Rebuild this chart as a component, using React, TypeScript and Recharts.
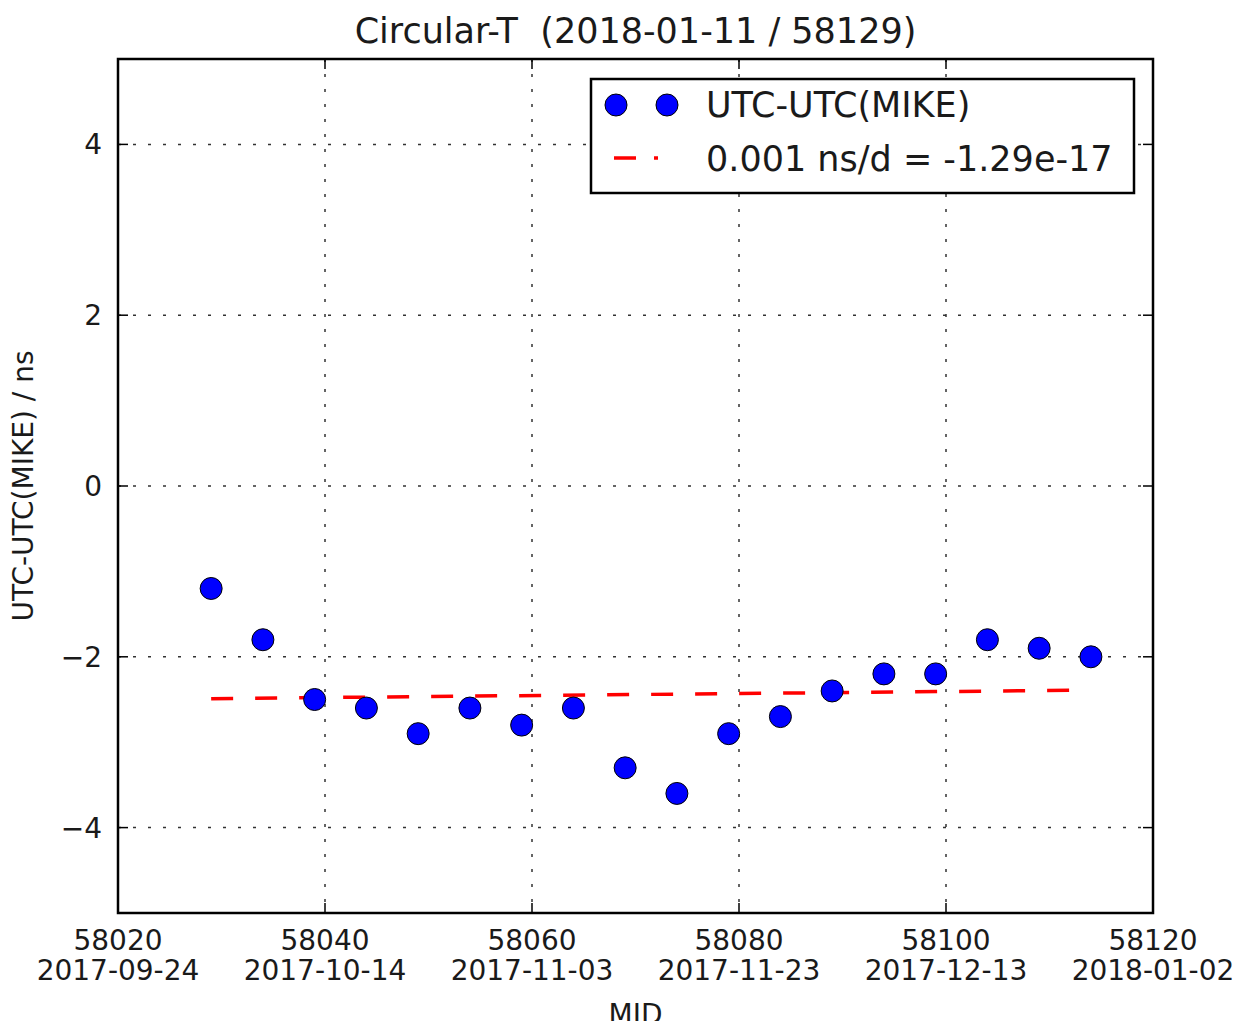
import { ComposedChart, Scatter, Line, XAxis, YAxis, CartesianGrid } from "recharts";

// UTC - UTC(MIKE) every 5 days
const mjdDays = [
  58029, 58034, 58039, 58044, 58049, 58054, 58059, 58064, 58069,
  58074, 58079, 58084, 58089, 58094, 58099, 58104, 58109, 58114,
];
const utcMike = [
  -1.2, -1.8, -2.5, -2.6, -2.9, -2.6, -2.8, -2.6, -3.3,
  -3.6, -2.9, -2.7, -2.4, -2.2, -2.2, -1.8, -1.9, -2.0,
];

// linear fit end points
const trendDays = [58029, 58114];
const trendValues = [-2.49, -2.39];

const xTicks = [58020, 58040, 58060, 58080, 58100, 58120];
const xTickDates = [
  "2017-09-24",
  "2017-10-14",
  "2017-11-03",
  "2017-11-23",
  "2017-12-13",
  "2018-01-02",
];
const yTicks = [-4, -2, 0, 2, 4];

const points = mjdDays.map((mjd, i) => ({ mjd, value: utcMike[i] }));
const trend = trendDays.map((mjd, i) => ({ mjd, value: trendValues[i] }));

const W = 1240;
const H = 1021;
const LEFT = 118;
const RIGHT = 1153;
const TOP = 59;
const BOTTOM = 913;
const FONT = "'DejaVu Sans', sans-serif";
const INK = "#1a1a1a";

function XTick(props: any) {
  const { x, payload } = props;
  const i = xTicks.indexOf(payload.value);
  return (
    <g>
      <line x1={x} x2={x} y1={BOTTOM} y2={BOTTOM - 10} stroke="#000" strokeWidth={1.5} />
      <line x1={x} x2={x} y1={TOP} y2={TOP + 10} stroke="#000" strokeWidth={1.5} />
      <text x={x} y={BOTTOM + 37} textAnchor="middle" fontSize={28} fill={INK} fontFamily={FONT}>
        {payload.value}
      </text>
      <text x={x} y={BOTTOM + 67} textAnchor="middle" fontSize={28} fill={INK} fontFamily={FONT}>
        {xTickDates[i]}
      </text>
    </g>
  );
}

function YTick(props: any) {
  const { y, payload } = props;
  const v = payload.value;
  const label = v < 0 ? "\u2212" + Math.abs(v) : String(v);
  return (
    <g>
      <line x1={LEFT} x2={LEFT + 10} y1={y} y2={y} stroke="#000" strokeWidth={1.5} />
      <line x1={RIGHT} x2={RIGHT - 10} y1={y} y2={y} stroke="#000" strokeWidth={1.5} />
      <text x={LEFT - 16} y={y + 10} textAnchor="end" fontSize={28} fill={INK} fontFamily={FONT}>
        {label}
      </text>
    </g>
  );
}

const Dot = (p: any) => (
  <circle cx={p.cx} cy={p.cy} r={11} fill="#0000ff" stroke="#000" strokeWidth={1} />
);

export default function App() {
  return (
    <div
      style={{
        position: "absolute",
        left: 0,
        top: 0,
        width: W,
        height: H,
        background: "#fff",
        overflow: "hidden",
        fontFamily: FONT,
      }}
    >
      <ComposedChart
        width={W}
        height={H}
        margin={{ top: TOP, right: W - RIGHT, left: 0, bottom: 0 }}
      >
        <CartesianGrid stroke="#333" strokeWidth={1.5} strokeDasharray="3 12" />
        <XAxis
          type="number"
          dataKey="mjd"
          domain={[58020, 58120]}
          ticks={xTicks}
          interval={0}
          height={H - BOTTOM}
          axisLine={false}
          tickLine={false}
          tick={<XTick />}
        />
        <YAxis
          type="number"
          dataKey="value"
          domain={[-5, 5]}
          ticks={yTicks}
          interval={0}
          width={LEFT}
          axisLine={false}
          tickLine={false}
          tick={<YTick />}
        />
        <Scatter data={points} dataKey="value" shape={Dot} isAnimationActive={false} />
        <Line
          data={trend}
          dataKey="value"
          type="linear"
          stroke="#ff0000"
          strokeWidth={3.5}
          strokeDasharray="22 22"
          dot={false}
          activeDot={false}
          isAnimationActive={false}
        />
      </ComposedChart>

      <svg
        width={W}
        height={H}
        style={{ position: "absolute", left: 0, top: 0, pointerEvents: "none" }}
      >
        <rect
          x={LEFT}
          y={TOP}
          width={RIGHT - LEFT}
          height={BOTTOM - TOP}
          fill="none"
          stroke="#000"
          strokeWidth={2.5}
        />
        <text
          x={(LEFT + RIGHT) / 2}
          y={43}
          textAnchor="middle"
          fontSize={35}
          fill={INK}
          fontFamily={FONT}
          xmlSpace="preserve"
          style={{ whiteSpace: "pre" }}
        >
          {"Circular-T  (2018-01-11 / 58129)"}
        </text>
        <text
          x={33}
          y={(TOP + BOTTOM) / 2}
          transform={`rotate(-90, 33, ${(TOP + BOTTOM) / 2})`}
          textAnchor="middle"
          fontSize={28}
          fill={INK}
          fontFamily={FONT}
        >
          UTC-UTC(MIKE) / ns
        </text>
        <text x={(LEFT + RIGHT) / 2} y={1024} textAnchor="middle" fontSize={28} fill={INK} fontFamily={FONT}>
          MJD
        </text>

        <g>
          <rect x={591} y={79} width={543} height={114} fill="#fff" stroke="#000" strokeWidth={2.5} />
          <circle cx={616} cy={105} r={11} fill="#0000ff" stroke="#000" strokeWidth={1} />
          <circle cx={667} cy={105} r={11} fill="#0000ff" stroke="#000" strokeWidth={1} />
          <text x={706} y={117} fontSize={35} fill={INK} fontFamily={FONT}>
            UTC-UTC(MIKE)
          </text>
          <line x1={614} x2={658} y1={158} y2={158} stroke="#ff0000" strokeWidth={3.5} strokeDasharray="22 18" />
          <text x={706} y={171} fontSize={35} fill={INK} fontFamily={FONT}>
            0.001 ns/d = -1.29e-17
          </text>
        </g>
      </svg>
    </div>
  );
}
